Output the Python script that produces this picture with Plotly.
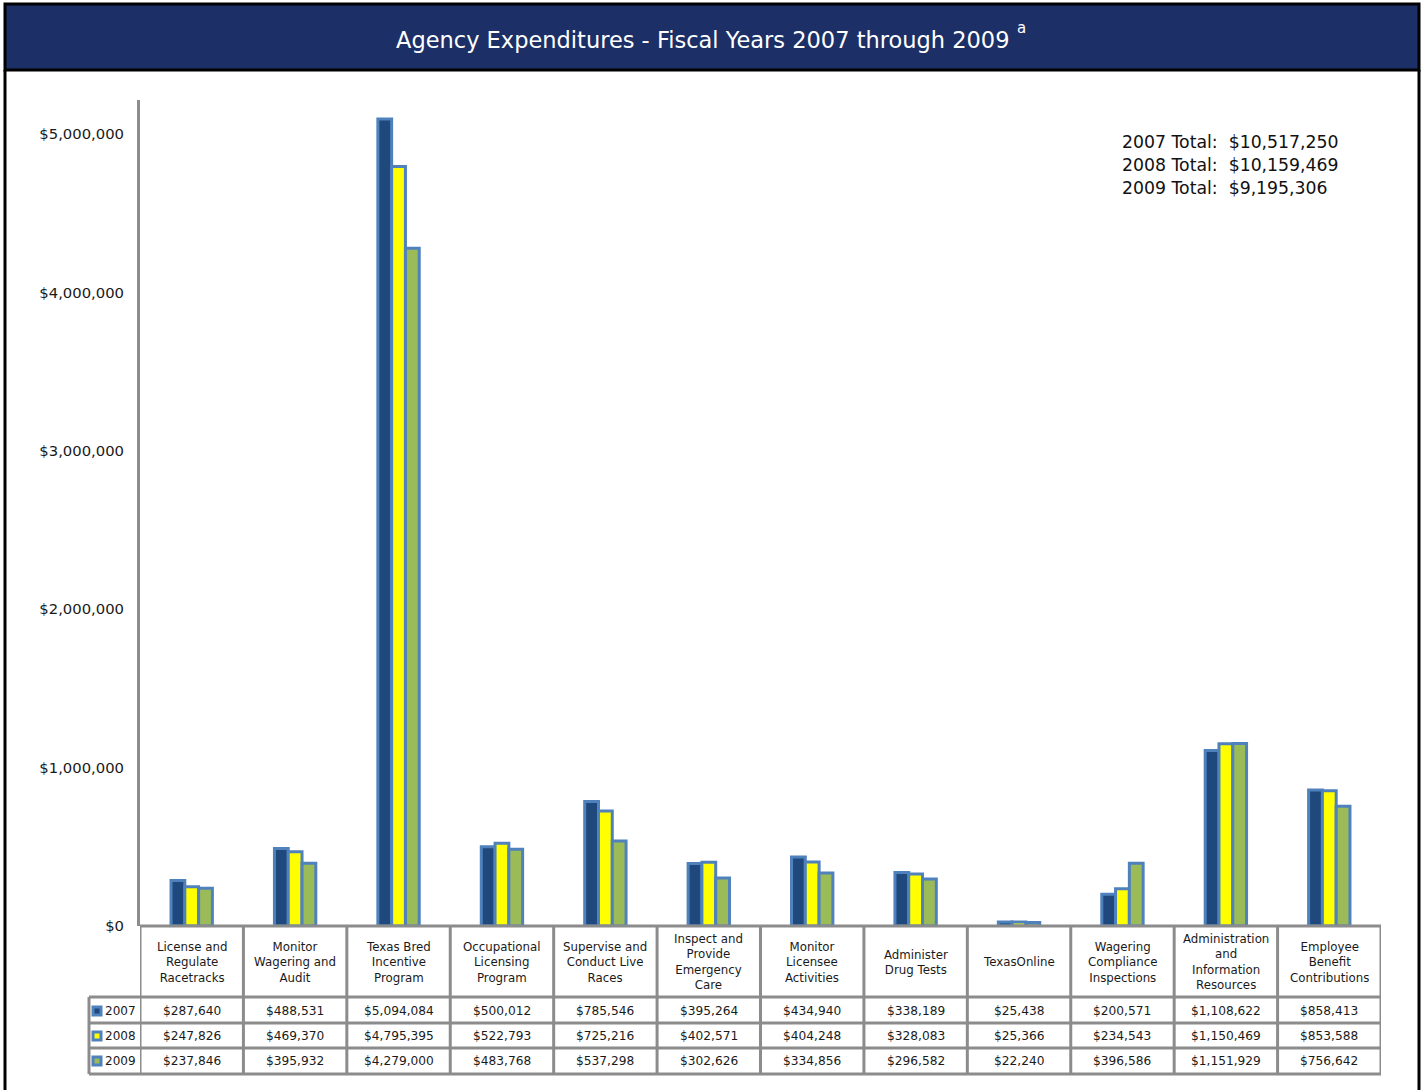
import plotly.graph_objects as go

# ---------------- data ----------------
categories = ["License and Regulate Racetracks", "Monitor Wagering and Audit",
              "Texas Bred Incentive Program", "Occupational Licensing Program",
              "Supervise and Conduct Live Races", "Inspect and Provide Emergency Care",
              "Monitor Licensee Activities", "Administer Drug Tests", "TexasOnline",
              "Wagering Compliance Inspections", "Administration and Information Resources",
              "Employee Benefit Contributions"]
header_labels = ["License and<br>Regulate<br>Racetracks", "Monitor<br>Wagering and<br>Audit",
                 "Texas Bred<br>Incentive<br>Program", "Occupational<br>Licensing<br>Program",
                 "Supervise and<br>Conduct Live<br>Races", "Inspect and<br>Provide<br>Emergency<br>Care",
                 "Monitor<br>Licensee<br>Activities", "Administer<br>Drug Tests", "TexasOnline",
                 "Wagering<br>Compliance<br>Inspections", "Administration<br>and<br>Information<br>Resources",
                 "Employee<br>Benefit<br>Contributions"]
years = ["2007", "2008", "2009"]
values_2007 = [287640, 488531, 5094084, 500012, 785546, 395264, 434940, 338189, 25438, 200571, 1108622, 858413]
values_2008 = [247826, 469370, 4795395, 522793, 725216, 402571, 404248, 328083, 25366, 234543, 1150469, 853588]
values_2009 = [237846, 395932, 4279000, 483768, 537298, 302626, 334856, 296582, 22240, 396586, 1151929, 756642]
totals = ["$10,517,250", "$10,159,469", "$9,195,306"]
y_ticks = [0, 1000000, 2000000, 3000000, 4000000, 5000000]
y_tick_labels = ["$0", "$1,000,000", "$2,000,000", "$3,000,000", "$4,000,000", "$5,000,000"]
title_text = "Agency Expenditures - Fiscal Years 2007 through 2009"
title_note = "a"

series = [values_2007, values_2008, values_2009]
fill_colors = ["#1F497D", "#FFFF00", "#9BBB59"]
outline = "#4F81BD"
grid_gray = "#8C8C8C"

W, H = 1422, 1090
def px(x):
    return x / W
def py(y):
    return 1 - y / H

fig = go.Figure()
for yr, vals, col in zip(years, series, fill_colors):
    fig.add_trace(go.Bar(x=categories, y=vals, name=yr,
                         marker=dict(color=col, line=dict(color=outline, width=3))))

shapes = []
annotations = []

# outer frame + title bar
shapes.append(dict(type="rect", xref="paper", yref="paper", x0=px(5), x1=px(1419), y0=py(70), y1=py(4),
                   fillcolor="#1C2F66", line=dict(color="black", width=3), layer="below"))
shapes.append(dict(type="line", xref="paper", yref="paper", x0=px(5), x1=px(5), y0=py(70), y1=py(1095),
                   line=dict(color="black", width=3)))
shapes.append(dict(type="line", xref="paper", yref="paper", x0=px(1419), x1=px(1419), y0=py(70), y1=py(1095),
                   line=dict(color="black", width=3)))
annotations.append(dict(xref="paper", yref="paper", x=px(702), y=py(40), showarrow=False,
                        text=title_text, xanchor="center", yanchor="middle",
                        font=dict(family="DejaVu Sans", size=22.5, color="white")))
annotations.append(dict(xref="paper", yref="paper", x=px(1022), y=py(28), showarrow=False,
                        text=title_note, xanchor="center", yanchor="middle",
                        font=dict(family="DejaVu Sans", size=15, color="white")))

# totals
for i, (yr, t) in enumerate(zip(years, totals)):
    annotations.append(dict(xref="paper", yref="paper", x=px(1120), y=py(142 + 23 * i), showarrow=False,
                            text=f"{yr} Total:&nbsp;&nbsp;{t}", xanchor="left", yanchor="middle",
                            font=dict(family="DejaVu Sans", size=17.3, color="#111111")))

# table geometry (pixel rows)
y_axis_line = 926
y_head_bot = 997
row_lines = [1023, 1048, 1074]
row_centers = [1011, 1036, 1061]
n = len(categories)

# horizontal lines
shapes.append(dict(type="line", xref="x", yref="paper", x0=-0.5, x1=n - 0.5, y0=py(y_axis_line), y1=py(y_axis_line),
                   line=dict(color=grid_gray, width=3)))
for yl in [y_head_bot] + row_lines:
    shapes.append(dict(type="line", xref="paper", yref="paper", x0=px(89), x1=px(140), y0=py(yl), y1=py(yl),
                       line=dict(color=grid_gray, width=3)))
    shapes.append(dict(type="line", xref="x", yref="paper", x0=-0.5, x1=n - 0.5, y0=py(yl), y1=py(yl),
                       line=dict(color=grid_gray, width=3)))
# vertical lines
for k in range(n + 1):
    shapes.append(dict(type="line", xref="x", yref="paper", x0=k - 0.5, x1=k - 0.5,
                       y0=py(y_axis_line), y1=py(row_lines[-1]), line=dict(color=grid_gray, width=3)))
shapes.append(dict(type="line", xref="paper", yref="paper", x0=px(89), x1=px(89),
                   y0=py(y_head_bot), y1=py(row_lines[-1]), line=dict(color=grid_gray, width=3)))

# header labels
for cat, lab in zip(categories, header_labels):
    annotations.append(dict(xref="x", yref="paper", x=cat, y=py(962), showarrow=False, text=lab,
                            xanchor="center", yanchor="middle",
                            font=dict(family="DejaVu Sans", size=11.8, color="#1a1a1a")))
# data rows
for r, (yr, vals, col) in enumerate(zip(years, series, fill_colors)):
    yc = row_centers[r]
    shapes.append(dict(type="rect", xref="paper", yref="paper", x0=px(93), x1=px(101), y0=py(yc + 4), y1=py(yc - 4),
                       fillcolor=col, line=dict(color=outline, width=3)))
    annotations.append(dict(xref="paper", yref="paper", x=px(103), y=py(yc), showarrow=False, text=yr,
                            xanchor="left", yanchor="middle",
                            font=dict(family="DejaVu Sans", size=12, color="#1a1a1a")))
    for cat, v in zip(categories, vals):
        annotations.append(dict(xref="x", yref="paper", x=cat, y=py(yc), showarrow=False,
                                text="${:,}".format(v), xanchor="center", yanchor="middle",
                                font=dict(family="DejaVu Sans", size=12.2, color="#1a1a1a")))

fig.update_layout(
    width=W, height=H, margin=dict(l=0, r=0, t=0, b=0, pad=0, autoexpand=False),
    paper_bgcolor="white", plot_bgcolor="white",
    barmode="group", bargap=0.6, bargroupgap=0,
    showlegend=False,
    xaxis=dict(domain=[px(140), px(1381)], showticklabels=False, showgrid=False, zeroline=False,
               showline=False, ticks="", range=[-0.5, n - 0.5], automargin=False),
    yaxis=dict(domain=[py(926), py(100)], range=[0, 5214600], tickvals=y_ticks, ticktext=y_tick_labels,
               showgrid=False, zeroline=False, showline=True, linecolor=grid_gray,
               linewidth=3, ticks="", ticklabelstandoff=10, automargin=False,
               tickfont=dict(family="DejaVu Sans", size=14.8, color="#1a1a1a")),
    shapes=shapes, annotations=annotations,
)

post = ("document.documentElement.style.margin='0';document.body.style.margin='0';"
        "document.documentElement.style.overflow='hidden';document.body.style.overflow='hidden';")
fig.write_html("out.html", post_script=post,
               config={"displayModeBar": False, "responsive": False})
